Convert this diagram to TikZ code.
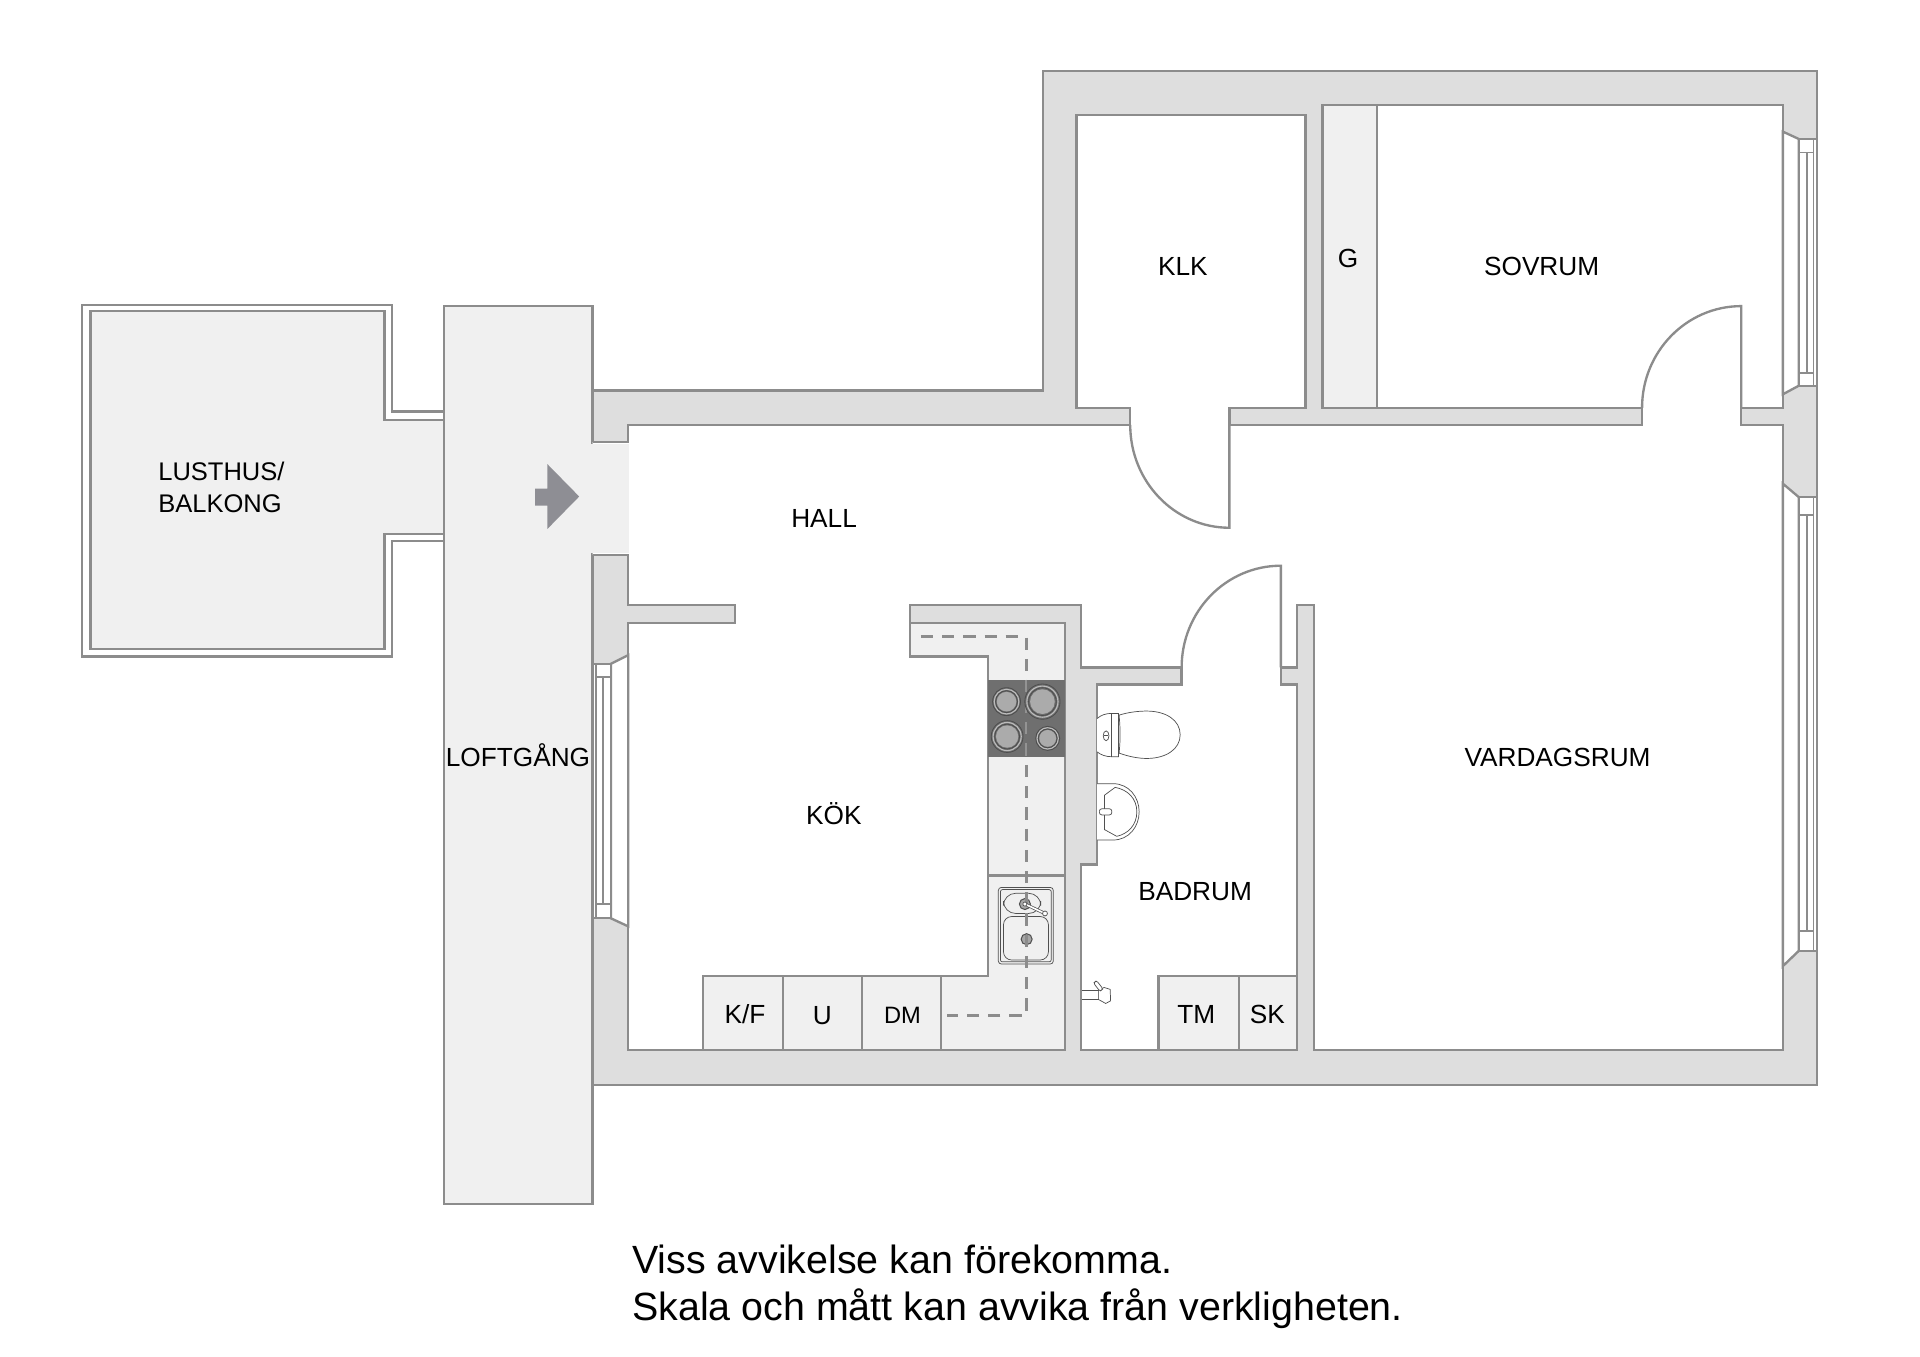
\documentclass[tikz,border=0pt]{standalone}
\usepackage{fontspec}
\setmainfont{Liberation Sans}
\usepackage[HTML]{xcolor}
\usepackage{tikz}
\usetikzlibrary{positioning}

\definecolor{wallgray}{HTML}{DEDEDE}
\definecolor{floorgray}{HTML}{F0F0F0}
\definecolor{linegray}{HTML}{8C8C8C}
\definecolor{hobgray}{HTML}{6F6F6F}
\definecolor{platgray}{HTML}{ABABAB}
\definecolor{arrowgray}{HTML}{8E8E94}
\definecolor{fixline}{HTML}{505050}

\tikzset{
    wall/.style={draw=linegray, line width=1.15pt, fill=wallgray, line join=miter},
    floorbox/.style={draw=linegray, line width=1.15pt, fill=floorgray},
    room/.style={draw=linegray, line width=1.15pt, fill=white},
    thinwin/.style={draw=linegray, line width=0.9pt, fill=white},
    fixture/.style={draw=fixline, line width=0.35pt, fill=white},
    sinkpart/.style={draw=fixline, line width=0.35pt, fill=floorgray},
    rumlabel/.style={font=\fontsize{12.85pt}{15pt}\selectfont, inner sep=0pt, text height=9.2pt, text depth=0pt, text=black},
    pipe/.style={draw=linegray, line width=1.4pt, dash pattern=on 6pt off 4.4pt}
}

% one hob plate: centre, outer radius
\newcommand{\hobplate}[3]{
    \draw[black!70, line width=0.4pt, fill=hobgray] (#1,#2) circle[radius=#3*0.6pt];
    \draw[platgray!80!white, line width=0.55pt] (#1,#2) circle[radius=#3*0.53pt];
    \draw[black!70, line width=0.4pt, fill=hobgray] (#1,#2) circle[radius=#3*0.47pt];
    \fill[platgray] (#1,#2) circle[radius=#3*0.42pt];
}

\begin{document}
\begin{tikzpicture}[x=0.6pt, y=-0.6pt]
\useasboundingbox (0,0) rectangle (1568,1108.2);

% --- Balcony and access gallery ---
\draw[room] (362,336) -- (320,336) -- (320,249) -- (67,249) -- (67,536) -- (320,536) -- (320,442) -- (362,442);
\draw[floorbox] (362,343) -- (314,343) -- (314,254) -- (74,254) -- (74,530) -- (314,530) -- (314,436) -- (362,436);
\draw[floorbox] (362.5,250) rectangle (484,983);

% --- Outer walls ---
\draw[wall] (484,319) -- (852,319) -- (852,58) -- (1484,58) -- (1484,886) -- (484,886) -- cycle;

% --- Rooms (one connected white floor) ---
\draw[room] (484,361) -- (513,361) -- (513,347) -- (923,347) -- (923,333) -- (879,333)
    -- (879,94) -- (1066,94) -- (1066,333) -- (1004,333) -- (1004,347) -- (1341,347)
    -- (1341,333) -- (1080,333) -- (1080,86) -- (1456,86) -- (1456,333) -- (1422,333)
    -- (1422,347) -- (1456,347) -- (1456,857.5) -- (1073,857.5) -- (1073,494) -- (1059,494)
    -- (1059,545) -- (1046,545) -- (1046,559) -- (1059,559) -- (1059,857.5) -- (883,857.5)
    -- (883,706) -- (896,706) -- (896,559) -- (965,559) -- (965,545) -- (883,545)
    -- (883,494) -- (743,494) -- (743,509) -- (870,509) -- (870,857.5) -- (513,857.5)
    -- (513,509) -- (600,509) -- (600,494) -- (513,494) -- (513,453) -- (484,453);

% Entrance opening
\fill[floorgray] (483,362.2) rectangle (513.5,451.8);

% --- Doors ---
\draw[linegray, line width=1.15pt] (923,347) .. controls (923,393.4) and (959.3,431) .. (1004,431) -- (1004,347);
\draw[linegray, line width=1.15pt] (1341,333) .. controls (1341,287.2) and (1377.3,250) .. (1422,250) -- (1422,333);
\draw[linegray, line width=1.15pt] (965,545) .. controls (965,499.2) and (1001.3,462) .. (1046,462) -- (1046,545);

% --- Windows ---
% left
\draw[room] (513,535) -- (499,542) -- (499,750) -- (513,756.5) -- cycle;
\draw[thinwin] (484,542) rectangle (499,750);
\draw[thinwin] (487,542) rectangle (499,750);
\draw[thinwin] (487,553) rectangle (499,738);
\draw[thinwin] (492.5,553) -- (492.5,738);
% right, bedroom
\draw[room] (1456,107.5) -- (1469,113.5) -- (1469,315) -- (1456,322) -- cycle;
\draw[thinwin] (1469,113.5) rectangle (1484,315);
\draw[thinwin] (1469,113.5) rectangle (1481,315);
\draw[thinwin] (1469,124.5) rectangle (1481,304.5);
\draw[thinwin] (1475.5,124.5) -- (1475.5,304.5);
% right, living room
\draw[room] (1456,395) -- (1469,406) -- (1469,776.5) -- (1456,789) -- cycle;
\draw[thinwin] (1469,406) rectangle (1484,776.5);
\draw[thinwin] (1469,406) rectangle (1481,776.5);
\draw[thinwin] (1469,420.5) rectangle (1481,760);
\draw[thinwin] (1475.5,420.5) -- (1475.5,760);

% --- Wardrobe and cabinets ---
\draw[floorbox] (1080,86) rectangle (1124.5,333);
\draw[floorbox] (946,797) rectangle (1012,857.5);
\draw[floorbox] (1012,797) rectangle (1059,857.5);

% --- Kitchen counter ---
\draw[floorbox] (743,509) -- (870,509) -- (870,857.5) -- (574,857.5) -- (574,797) -- (807,797) -- (807,536) -- (743,536) -- cycle;
\draw[linegray, line width=1.15pt] (639.5,797) -- (639.5,857.5);
\draw[linegray, line width=1.15pt] (704,797) -- (704,857.5);
\draw[linegray, line width=1.15pt] (768.5,797) -- (768.5,857.5);
\draw[linegray, line width=1.15pt] (807,715) -- (870,715);

% Sink
\draw[sinkpart, rounded corners=1.5pt] (815.3,724.7) rectangle (860.2,787.3);
\draw[sinkpart, rounded corners=1pt] (817,726.5) rectangle (858.5,785.5);
\draw[sinkpart, rounded corners=6pt] (819.5,729.5) rectangle (850,746);
\draw[sinkpart, rounded corners=4pt] (819.5,748.5) rectangle (856.2,784);
\draw[fixline, line width=0.5pt, fill=gray!70] (837,738.3) circle[radius=2.7pt];
\draw[fixline, line width=0.5pt, fill=gray!70] (838.4,767) circle[radius=2.7pt];

% Ventilation pipe
\draw[pipe] (752,520) -- (838,520) -- (838,829) -- (773,829);

% Hob, the pipe faintly through it
\fill[hobgray] (806.5,555) rectangle (869.5,618.5);
\draw[hobgray!75!white, line width=1.15pt, dash pattern=on 6pt off 4.4pt] (838,555) -- (838,618.5);
\hobplate{822}{573}{11.4}
\hobplate{851.3}{573}{14.4}
\hobplate{822.5}{601.5}{13}
\hobplate{855.6}{603}{9.8}

% Tap lever over the pipe
\draw[fixline, line width=1.5pt] (837,738.3) -- (853.4,746);
\draw[white, line width=0.8pt] (837,738.3) -- (853.4,746);
\draw[fixline, line width=0.35pt, fill=white] (853.4,746) circle[radius=1.2pt];
\draw[fixline, line width=0.35pt, fill=white] (837,738.3) circle[radius=1pt];

% --- Bathroom fixtures ---
% toilet
\draw[fixture] (896,586.8) .. controls (899,584) and (903,582.6) .. (908,582.6) -- (913.4,582.6) -- (913.4,618) -- (908,618) .. controls (903,618) and (899,616.5) .. (896,614);
\draw[fixture] (908,582.6) -- (908,618);
\draw[fixture] (913.9,584) .. controls (922,581.5) and (930,580.7) .. (936.5,580.7) .. controls (952,580.7) and (963.8,588) .. (963.8,600) .. controls (963.8,612) and (952,619.4) .. (936.5,619.4) .. controls (930,619.4) and (922,618) .. (913.9,615) .. controls (915,605) and (915,595) .. (913.9,584);
\draw[fixture] (903.3,600.9) ellipse[x radius=1.4pt, y radius=2.4pt];
\draw[fixture] (901.6,600.9) -- (905,600.9);
% wash basin
\draw[fixture] (896,640) -- (909,640) .. controls (922,640) and (930.3,651) .. (930.3,663) .. controls (930.3,675) and (922,686) .. (909,686) -- (896,686);
\draw[fixture] (902,649.4) -- (910.7,643) .. controls (921,645) and (928.4,652) .. (928.4,663) .. controls (928.4,674) and (921,681) .. (912,683) -- (902,677.5) -- cycle;
\draw[fixture, rounded corners=1.2pt] (897.8,660.5) rectangle (908,665.5);
% wall tap
\draw[fixture] (883.5,808.6) -- (897,808.6) -- (897,816.2) -- (883.5,816.2);
\draw[fixture] (897,809) -- (901.7,806.4) -- (906.6,808) -- (907,817.3) -- (903,819.5) -- (897,816.2) -- cycle;
\draw[fixture, rounded corners=1pt] (893,802.8) -- (895.5,800.8) -- (900.8,807.6) -- (898.3,809.6) -- cycle;

% --- Entrance arrow ---
\fill[arrowgray] (437,399) -- (447,399) -- (447,379) -- (473,405.5) -- (447,432) -- (447,413) -- (437,413) -- cycle;

% --- Labels ---
\node[rumlabel, anchor=west, font=\fontsize{12.5pt}{15pt}\selectfont] (lusthus) at (129,385) {LUSTHUS/};
\node[rumlabel, anchor=west, font=\fontsize{12.5pt}{15pt}\selectfont] (balkong) at (129,410.5) {BALKONG};
\node[rumlabel] (loftgang) at (423,618) {LOFTGÅNG};
\node[rumlabel] (hall) at (673,423) {HALL};
\node[rumlabel] (kok) at (681,665.5) {KÖK};
\node[rumlabel] (klk) at (966,217) {KLK};
\node[rumlabel] (garderob) at (1101,211) {G};
\node[rumlabel] (sovrum) at (1259,217) {SOVRUM};
\node[rumlabel] (vardagsrum) at (1272,618) {VARDAGSRUM};
\node[rumlabel] (badrum) at (976,727.5) {BADRUM};
\node[rumlabel] (kf) at (608.5,828.5) {K/F};
\node[rumlabel] (ugn) at (671.5,829) {U};
\node[rumlabel, font=\fontsize{11.6pt}{14pt}\selectfont] (dm) at (737,828.5) {DM};
\node[rumlabel] (tm) at (977,828.5) {TM};
\node[rumlabel] (sk) at (1035,828.5) {SK};

% Footnote
\node[anchor=west, inner sep=0pt, font=\fontsize{19.3pt}{23pt}\selectfont, align=left] (note) at (516,1051)
    {Viss avvikelse kan förekomma.\\Skala och mått kan avvika från verkligheten.};

\end{tikzpicture}
\end{document}
